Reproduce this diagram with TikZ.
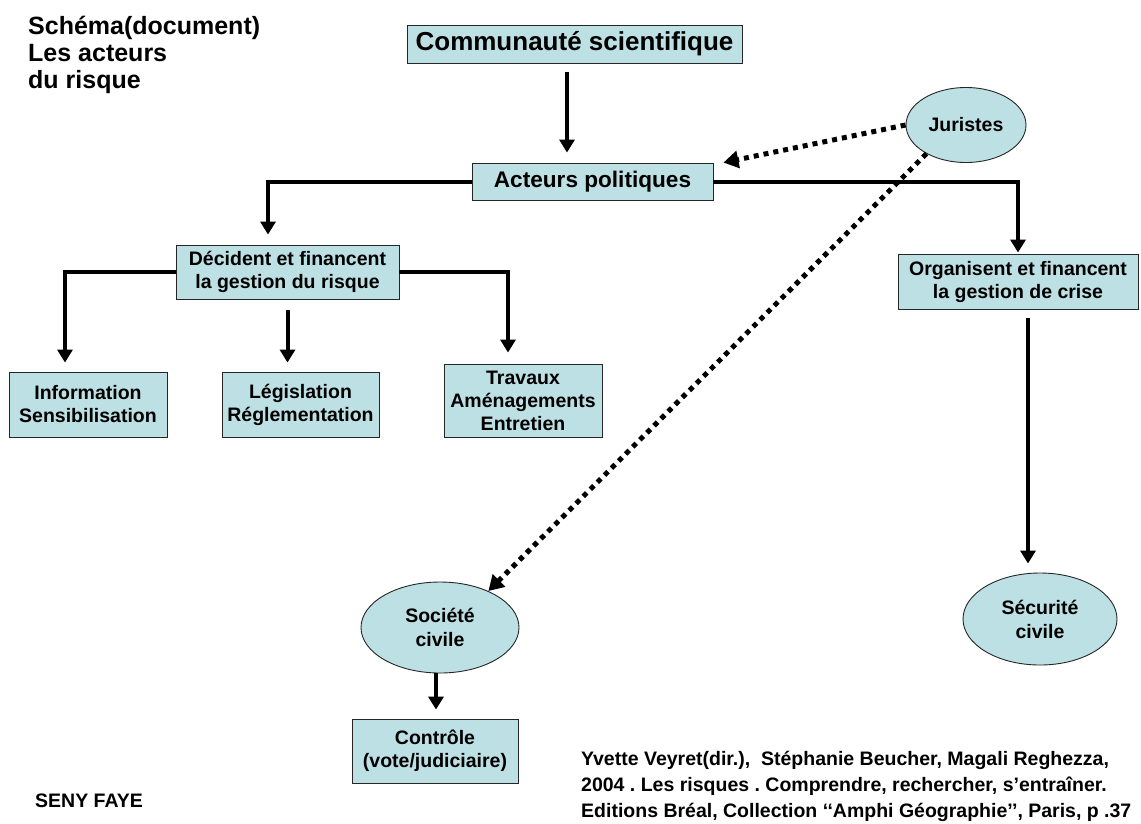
\documentclass[tikz,border=0pt]{standalone}
\usepackage{fontspec}
\setmainfont{Liberation Sans}
\usetikzlibrary{arrows.meta,shapes.geometric}
\definecolor{boxfill}{RGB}{189,224,228}
\frenchspacing
\begin{document}
\begin{tikzpicture}[x=1pt,y=-1pt,
  box/.style={draw=black!85, line width=0.9pt, fill=boxfill, inner sep=0pt, align=center,
    font=\bfseries\fontsize{19.5}{23}\selectfont},
  oval/.style={ellipse, draw=black!85, line width=0.9pt, fill=boxfill, inner sep=0pt, align=center,
    font=\bfseries\fontsize{19.5}{24}\selectfont},
  conn/.style={line width=4pt, -{Triangle[width=15pt,length=13pt]}},
  dotconn/.style={line width=5pt, dash pattern=on 5pt off 5pt, -{Triangle[width=17pt,length=15pt]}},
  plain/.style={inner sep=0pt, align=left, font=\bfseries\fontsize{19.5}{26}\selectfont}
]
\useasboundingbox (0,0) rectangle (1141,823);

% boxes
\node[box, minimum width=335pt, minimum height=38pt, font=\bfseries\fontsize{26}{30}\selectfont] (comm) at (574.5,44) {Communauté scientifique};
\node[box, minimum width=241pt, minimum height=37pt, font=\bfseries\fontsize{22.6}{26}\selectfont] (acteurs) at (592.5,181.5) {Acteurs politiques};
\node[box, minimum width=223pt, minimum height=54pt] (decid) at (287.5,272) {Décident et financent\\la gestion du risque};
\node[box, minimum width=158pt, minimum height=65pt] (info) at (88,404.5) {Information\\Sensibilisation};
\node[box, minimum width=157pt, minimum height=65pt] (legis) at (300.5,404.5) {Législation\\Réglementation};
\node[box, minimum width=158pt, minimum height=73pt] (trav) at (523,400.5) {Travaux\\Aménagements\\Entretien};
\node[box, minimum width=240pt, minimum height=55pt] (organ) at (1018,281.5) {Organisent et financent\\la gestion de crise};
\node[box, minimum width=166pt, minimum height=64pt] (ctrl) at (435,751) {Contrôle\\(vote/judiciaire)};

% ellipses
\node[oval, minimum width=120pt, minimum height=75pt] (juristes) at (966,125) {Juristes};
\node[oval, minimum width=158pt, minimum height=91pt] (societe) at (440,627.5) {Société\\civile};
\node[oval, minimum width=154pt, minimum height=92pt] (secur) at (1040,619) {Sécurité\\civile};

% texts
\node[plain, anchor=north west, font=\bfseries\fontsize{25}{27}\selectfont] (title) at (28,16) {Schéma(document)\\Les acteurs\\du risque};
\node[plain, anchor=north west] (author) at (35,794) {SENY FAYE};
\node[plain, anchor=north west] (cite) at (581,751) {Yvette Veyret(dir.),\ \ Stéphanie Beucher, Magali Reghezza,\\2004 . Les risques . Comprendre, rechercher, s’entraîner.\\Editions Bréal, Collection ‘‘Amphi Géographie’’, Paris, p .37};

% solid connectors
\draw[conn, shorten <=9pt, shorten >=10pt] ([xshift=-7.5pt]comm.south) -- ([xshift=-7.5pt]comm.south |- acteurs.north);
\draw[conn, shorten >=10pt] (acteurs.west) -| ([xshift=-19.5pt]decid.north);
\draw[conn, shorten >=1pt] (acteurs.east) -| (organ.north);
\draw[conn, shorten >=9pt] (decid.west) -| ([xshift=-23pt]info.north);
\draw[conn, shorten <=11pt, shorten >=9pt] (decid.south) -- (decid.south |- legis.north);
\draw[conn, shorten >=11pt] (decid.east) -| ([xshift=-15pt]trav.north);
\draw[conn, shorten <=9pt, shorten >=9pt] ([xshift=10pt]organ.south) -- ([xshift=10pt]organ.south |- secur.north);
\draw[conn, shorten >=9pt] ([xshift=-4pt]societe.south) -- ([xshift=-4pt]societe.south |- ctrl.north);

% dotted connectors
\draw[dotconn] (juristes.west) -- ([xshift=10pt]acteurs.north east);
\draw[dotconn] (juristes.216) -- (societe.37);
\end{tikzpicture}
\end{document}
